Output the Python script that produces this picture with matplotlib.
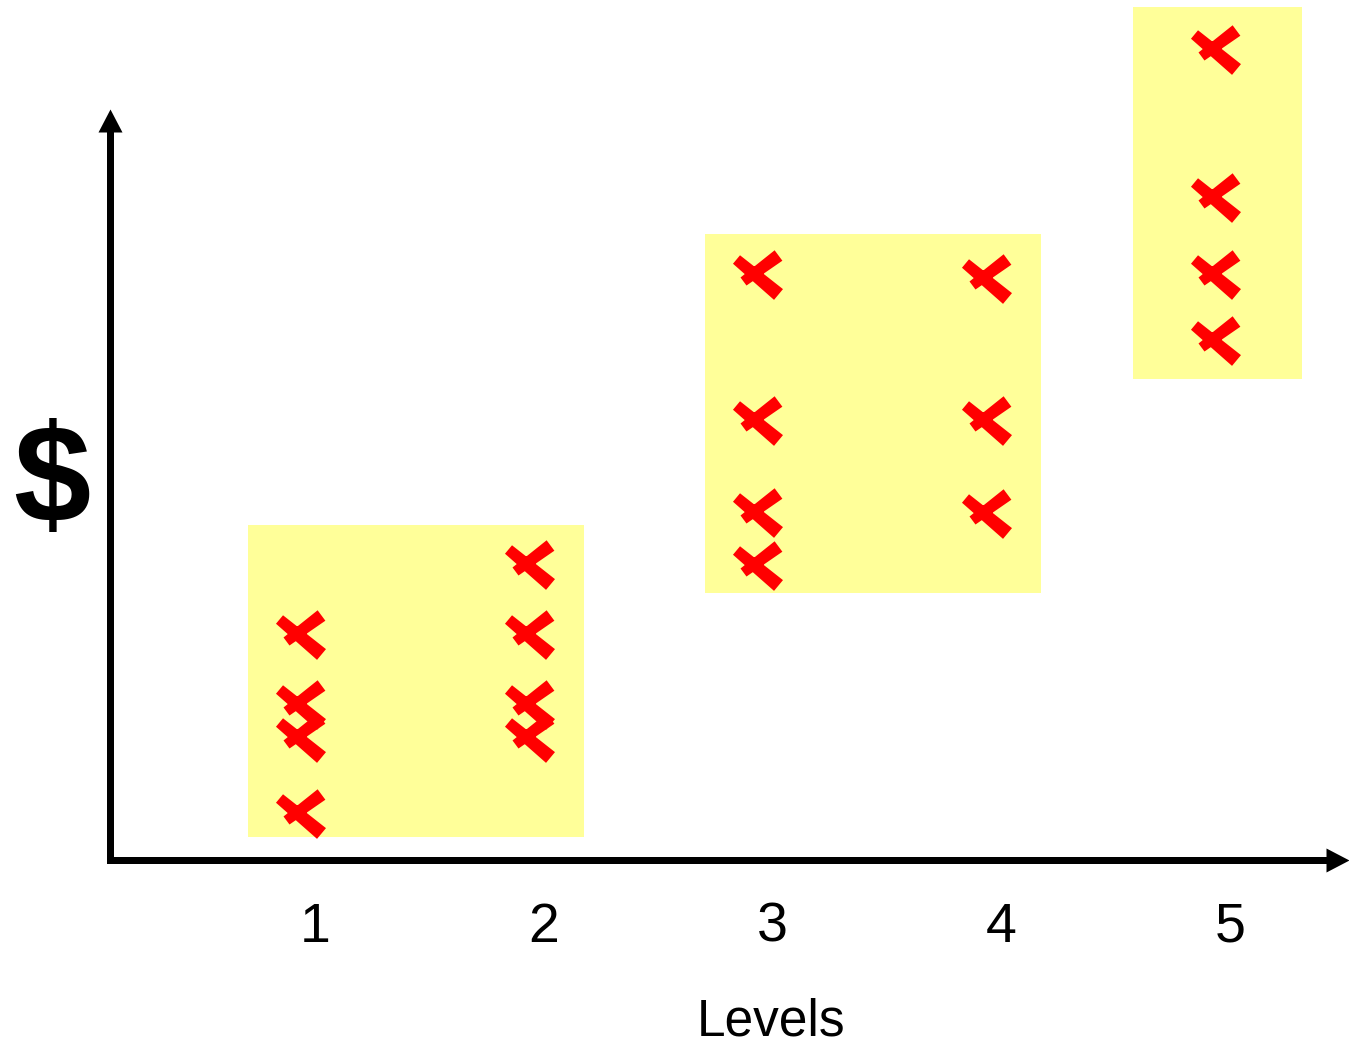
import numpy as np
import matplotlib
matplotlib.use('Agg')
import matplotlib.pyplot as plt
from matplotlib.path import Path
from matplotlib.patches import Rectangle
from matplotlib.transforms import ScaledTranslation

plt.rcParams['font.family'] = ['Liberation Sans', 'DejaVu Sans']

# Данные: уровни и значения ($) для каждого уровня
levels = [1, 2, 3, 4, 5]
values_1 = [23.3, 16.3, 13.0, 5.4]
values_2 = [30.3, 23.3, 16.3, 13.0]
values_3 = [59.3, 44.7, 35.5, 30.2]
values_4 = [58.9, 44.7, 35.4]
values_5 = [81.8, 67.0, 59.3, 52.7]
all_values = [values_1, values_2, values_3, values_4, values_5]

# Жёлтые диапазоны (x от, x до, y от, y до)
band_x0 = [0.78, 2.78, 4.65]
band_x1 = [2.25, 4.25, 5.39]
band_y0 = [2.3, 26.7, 48.1]
band_y1 = [33.5, 62.6, 85.3]

DPI = 100
fig = plt.figure(figsize=(13.49, 10.45), dpi=DPI)
ax = fig.add_axes([0, 0, 1, 1])
ax.set_xlim(-0.3027, 5.5946)
ax.set_ylim(-18.5, 86.0)
ax.set_facecolor('white')


def px2ms(path):
    # размер маркера в пунктах, чтобы единица пути = 1 пиксель
    return 2 * np.max(np.abs(path.vertices)) * 72 / DPI


def stroke(p0, p1, w0, w1):
    p0 = np.array(p0, float)
    p1 = np.array(p1, float)
    d = (p1 - p0) / np.hypot(*(p1 - p0))
    n = np.array([-d[1], d[0]])
    return [p0 + n * w0, p1 + n * w1, p1 - n * w1, p0 - n * w0, p0 + n * w0]


# "мазок" в виде крестика
verts = stroke((-19, 8), (23, -27), 5.5, 7) + stroke((-12, -14), (23, 12), 5, 6.5)
codes = ([Path.MOVETO] + [Path.LINETO] * 3 + [Path.CLOSEPOLY]) * 2
cross = Path(verts, codes)

# Диапазоны
for x0, x1, y0, y1 in zip(band_x0, band_x1, band_y0, band_y1):
    ax.add_patch(Rectangle((x0, y0), x1 - x0, y1 - y0, facecolor='#FFFF99',
                           edgecolor='none', zorder=1))

# Точки
for lev, vals in zip(levels, all_values):
    ax.plot([lev] * len(vals), vals, linestyle='none', marker=cross,
            markersize=px2ms(cross), color='#FF0000', markeredgewidth=0,
            zorder=3)

# Оси со стрелками
y_axis_x = 0.178
y_top = 75.1
x_right = 5.5946
lw = 7 * 72 / DPI
for side in ['top', 'right']:
    ax.spines[side].set_visible(False)
ax.spines['left'].set_position(('data', y_axis_x))
ax.spines['bottom'].set_position(('data', 0))
ax.spines['left'].set_bounds(0, y_top - 2.5)
ax.spines['bottom'].set_bounds(y_axis_x, x_right - 0.06)
for side in ['left', 'bottom']:
    ax.spines[side].set_linewidth(lw)
    ax.spines[side].set_color('black')
    ax.spines[side].set_capstyle('projecting')

head_r = Path([(0, 0), (-23, 12), (-23, -12), (0, 0)],
              [Path.MOVETO, Path.LINETO, Path.LINETO, Path.CLOSEPOLY])
head_u = Path([(0, 0), (-12, -23), (12, -23), (0, 0)],
              [Path.MOVETO, Path.LINETO, Path.LINETO, Path.CLOSEPOLY])
ax.plot([x_right], [0], marker=head_r, markersize=px2ms(head_r), color='black',
        markeredgewidth=0, clip_on=False, zorder=4)
ax.plot([y_axis_x], [y_top], marker=head_u, markersize=px2ms(head_u), color='black',
        markeredgewidth=0, clip_on=False, zorder=4)

ax.set_yticks([])
ax.set_xticks(levels, labels=[str(l) for l in levels])
ax.tick_params(axis='x', length=0, pad=30, labelsize=40)
offset = ScaledTranslation(0.17, 0, fig.dpi_scale_trans)
for lab in ax.get_xticklabels():
    lab.set_transform(lab.get_transform() + offset)

ax.set_xlabel('Levels', fontsize=37)
ax.xaxis.set_label_coords(771 / 1349, 1 - 997 / 1045)

ax.text(52 / 1349, 1 - 486 / 1045, '$', transform=ax.transAxes, fontsize=100,
        fontweight='bold', ha='center', va='center')

fig.savefig('out.png', dpi=DPI)
